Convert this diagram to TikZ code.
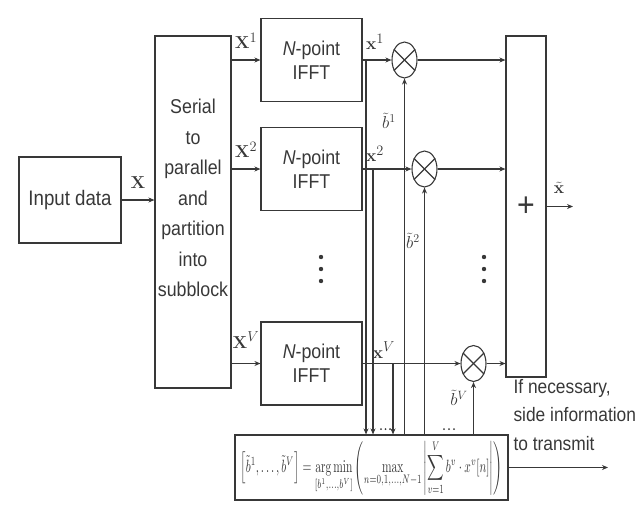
\documentclass[tikz,border=0pt]{standalone}
\usepackage[no-math]{fontspec}
\setmainfont{Liberation Sans}[FakeStretch=0.89]
\usepackage{amsmath}
\usetikzlibrary{shapes.geometric,arrows.meta}
\begin{document}
\begin{tikzpicture}[x=1pt,y=-1pt,color=black!78,line width=1.1pt,
  blk/.style={draw,rectangle,inner sep=0pt,align=center,font=\fontsize{20}{24}\selectfont},
  mult/.style={draw,ellipse,minimum width=25pt,minimum height=36pt,inner sep=0pt},
  arr/.style={-{Stealth[length=6pt,width=5pt]}},
  lbl/.style={inner sep=0pt,font=\fontsize{19}{19}\selectfont},
  blbl/.style={inner sep=0pt,font=\fontsize{17}{17}\selectfont}]
\useasboundingbox (0,0) rectangle (637,507);
% blocks
\node[blk,minimum width=102pt,minimum height=86pt,font=\fontsize{21}{24}\selectfont] (in) at (70,200) {Input data};
\node[blk,minimum width=76pt,minimum height=352pt] (sp) at (193,212) {};
\node[inner sep=0pt,align=center,font=\fontsize{20}{30.5}\selectfont] (spt) at (193,198) {Serial\\to\\parallel\\and\\partition\\into\\subblock};
\node[blk,minimum width=101pt,minimum height=83pt] (f1) at (311.5,60) {\textit{N}-point\\IFFT};
\node[blk,minimum width=101pt,minimum height=83pt] (f2) at (311.5,169) {\textit{N}-point\\IFFT};
\node[blk,minimum width=101pt,minimum height=83pt] (fV) at (311.5,363.5) {\textit{N}-point\\IFFT};
\node[mult] (m1) at (404.5,60) {};
\node[mult] (m2) at (424.5,169) {};
\node[mult] (mV) at (473.5,363.5) {};
\foreach \m in {m1,m2,mV} {\draw (\m.45) -- (\m.225); \draw (\m.135) -- (\m.315);}
\node[blk,minimum width=40pt,minimum height=341pt,font=\fontsize{34}{34}\selectfont] (add) at (526,206.5) {+};
\node[draw,rectangle,minimum width=273pt,minimum height=65pt,inner sep=0pt] (opt) at (371.5,467.5)
 {\resizebox*{262pt}{55pt}{$\displaystyle\left[\tilde b^{1},\ldots,\tilde b^{V}\right]=\mathop{\mathrm{arg\,min}}\limits_{[b^{1},\ldots,b^{V}]}\left(\max\limits_{n=0,1,\ldots,N-1}\left|\sum\limits_{v=1}^{V} b^{v}\cdot x^{v}[n]\right|\right)$}};
% labels
\node[lbl] (lX) at (138,183) {$\mathbf{X}$};
\node[lbl] (lX1) at (246,41) {$\mathbf{X}^1$};
\node[lbl] (lX2) at (246,150) {$\mathbf{X}^2$};
\node[lbl] (lXV) at (246,340) {$\mathbf{X}^V$};
\node[lbl] (lx1) at (375,42) {$\mathbf{x}^1$};
\node[lbl] (lx2) at (375,154) {$\mathbf{x}^2$};
\node[lbl] (lxV) at (384,350) {$\mathbf{x}^V$};
\node[lbl] (lxo) at (559,188) {$\tilde{\mathbf{x}}$};
\node[blbl] (lb1) at (389,121) {$\tilde{b}^1$};
\node[blbl] (lb2) at (413,241) {$\tilde{b}^2$};
\node[blbl] (lbV) at (459,398) {$\tilde{b}^V$};
\node[anchor=west,align=left,inner sep=0pt,font=\fontsize{19.5}{28.5}\selectfont] (side) at (513,415) {If necessary,\\side information\\to transmit};
% dots
\foreach \y in {257,269,281} {\fill (321,\y) circle (2.2); \fill (484,\y) circle (2.2);}
\foreach \x in {381,385.5,390,444,449,454} {\fill (\x,429) circle (1);}
% coordinates
\coordinate (t1) at (366,60);
\coordinate (t2) at (373,169);
\coordinate (tV) at (393,363.5);
\coordinate (xo) at (573,206.5);
\coordinate (so) at (608,467.5);
% connectors
\draw[arr] (in.east) -- (in.east -| sp.west);
\draw[arr] (f1.west -| sp.east) -- (f1.west);
\draw[arr] (f2.west -| sp.east) -- (f2.west);
\draw[arr] (fV.west -| sp.east) -- (fV.west);
\draw[arr] (f1.east) -- (m1.west);
\draw[arr] (f2.east) -- (m2.west);
\draw[arr] (fV.east) -- (mV.west);
\draw[arr] (t1) -- (t1 |- opt.north);
\draw[arr] (t2) -- (t2 |- opt.north);
\draw[arr] (tV) -- (tV |- opt.north);
\draw[arr] (m1.south |- opt.north) -- (m1.south);
\draw[arr] (m2.south |- opt.north) -- (m2.south);
\draw[arr] (mV.south |- opt.north) -- (mV.south);
\draw[arr] (m1.east) -- (m1.east -| add.west);
\draw[arr] (m2.east) -- (m2.east -| add.west);
\draw[arr] (mV.east) -- (mV.east -| add.west);
\draw[arr] (add.east) -- (xo);
\draw[arr] (opt.east) -- (so);
\end{tikzpicture}
\end{document}
